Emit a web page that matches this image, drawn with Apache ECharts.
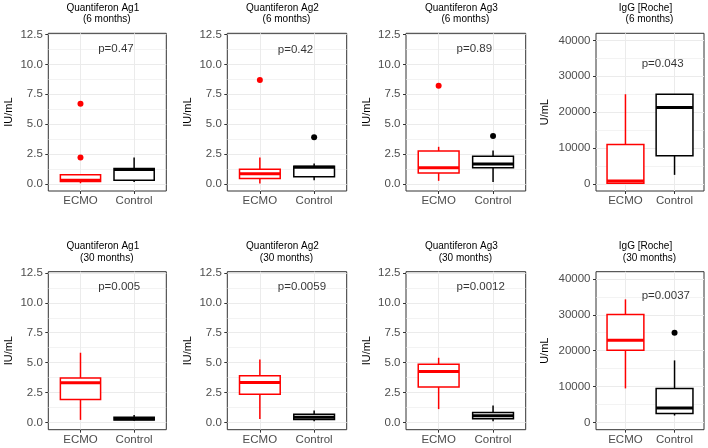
<!DOCTYPE html>
<html>
<head>
<meta charset="utf-8">
<script src="https://cdn.jsdelivr.net/npm/echarts@6/dist/echarts.min.js"></script>
<style>
html, body { margin: 0; padding: 0; background: #fff; }
#main { width: 708px; height: 448px; }
</style>
</head>
<body>
<div id="main"></div>
<script>
// data
const groups = ['ECMO', 'Control'];
const titles = ['Quantiferon Ag1', 'Quantiferon Ag2', 'Quantiferon Ag3', 'IgG [Roche]',
                'Quantiferon Ag1', 'Quantiferon Ag2', 'Quantiferon Ag3', 'IgG [Roche]'];
const periods = ['(6 months)', '(6 months)', '(6 months)', '(6 months)',
                 '(30 months)', '(30 months)', '(30 months)', '(30 months)'];
const units = ['IU/mL', 'IU/mL', 'IU/mL', 'U/mL', 'IU/mL', 'IU/mL', 'IU/mL', 'U/mL'];
const pValues = ['p=0.47', 'p=0.42', 'p=0.89', 'p=0.043', 'p=0.005', 'p=0.0059', 'p=0.0012', 'p=0.0037'];
const pLabelY = [11.3, 11.2, 11.3, 33600, 11.3, 11.3, 11.3, 35400];

// [min, Q1, median, Q3, max]
const ecmoBox = [
  [0.05, 0.2, 0.3, 0.75, 0.78],
  [0.03, 0.45, 0.84, 1.23, 2.2],
  [0.25, 0.9, 1.35, 2.75, 3.1],
  [0, 150, 800, 11000, 25000],
  [0.22, 1.93, 3.32, 3.71, 5.83],
  [0.3, 2.37, 3.35, 3.91, 5.27],
  [1.12, 2.96, 4.27, 4.86, 5.41],
  [9500, 20100, 22900, 30100, 34300]
];
const controlBox = [
  [0.15, 0.3, 1.2, 1.28, 2.2],
  [0.3, 0.6, 1.38, 1.48, 1.7],
  [0.15, 1.35, 1.65, 2.3, 2.8],
  [2500, 7850, 21300, 25000, 25000],
  [0.15, 0.2, 0.32, 0.45, 0.62],
  [0.1, 0.25, 0.45, 0.7, 1.0],
  [0.11, 0.31, 0.56, 0.84, 1.42],
  [1950, 2500, 4050, 9500, 17300]
];
const ecmoOutliers = [[6.7, 2.2], [8.7], [8.2], [], [], [], [], []];
const controlOutliers = [[], [3.9], [4.0], [], [], [], [], [25000]];

const iuTicks = [0, 2.5, 5, 7.5, 10, 12.5];
const iuMinor = [1.25, 3.75, 6.25, 8.75, 11.25];
const uTicks = [0, 10000, 20000, 30000, 40000];
const uMinor = [5000, 15000, 25000, 35000];

// layout
const colX = [[48.3, 166.3], [227.3, 346.7], [406, 525.7], [596, 704]];
const rowY = [[33.3, 191], [271.7, 429.7]];
const colors = ['#ff0000', '#000000'];
const FONT = '"Liberation Sans", Arial, sans-serif';

function renderBox(params, api) {
  var x = api.value(0);
  var c = api.visual('color');
  var half = 0.375;
  var lo = api.coord([x - half, api.value(2)]);
  var hi = api.coord([x + half, api.value(4)]);
  var wMin = api.coord([x, api.value(1)]);
  var wMax = api.coord([x, api.value(5)]);
  var m1 = api.coord([x - half, api.value(3)]);
  var m2 = api.coord([x + half, api.value(3)]);
  return {
    type: 'group',
    children: [
      {type: 'line', shape: {x1: wMin[0], y1: wMin[1], x2: wMin[0], y2: lo[1]}, style: {stroke: c, lineWidth: 1.5}},
      {type: 'line', shape: {x1: wMax[0], y1: wMax[1], x2: wMax[0], y2: hi[1]}, style: {stroke: c, lineWidth: 1.5}},
      {type: 'rect', shape: {x: lo[0], y: hi[1], width: hi[0] - lo[0], height: lo[1] - hi[1]},
        style: {fill: '#fff', stroke: c, lineWidth: 1.5}},
      {type: 'line', shape: {x1: m1[0], y1: m1[1], x2: m2[0], y2: m2[1]}, style: {stroke: c, lineWidth: 3}}
    ]
  };
}

let grids = [], xAxes = [], yAxes = [], series = [], graphics = [];

for (let i = 0; i < 8; i++) {
  let row = Math.floor(i / 4), col = i % 4;
  let x0 = colX[col][0], x1 = colX[col][1];
  let y0 = rowY[row][0], y1 = rowY[row][1];
  let igg = (col === 3);
  let ymin = igg ? -2000 : -0.6;
  let ymax = igg ? 42000 : 12.6;

  grids.push({left: x0, top: y0, width: x1 - x0, height: y1 - y0, show: true,
    borderColor: '#333', borderWidth: 1, backgroundColor: '#fff', containLabel: false});

  xAxes.push({
    type: 'value', gridIndex: i, min: 0.4, max: 2.6,
    axisLine: {show: false, onZero: false},
    axisTick: {show: true, length: 3, customValues: [1, 2], lineStyle: {color: '#333', width: 1}},
    axisLabel: {customValues: [1, 2], formatter: function (v) { return groups[Math.round(v) - 1]; },
      color: '#4d4d4d', fontSize: 11.5, margin: 4, fontFamily: FONT},
    splitLine: {show: true, lineStyle: {color: '#ebebeb', width: 1}}
  });

  yAxes.push({
    type: 'value', gridIndex: i, min: ymin, max: ymax, position: 'left',
    name: units[i], nameLocation: 'middle', nameRotate: 90, nameGap: igg ? 45.5 : 34,
    nameTextStyle: {color: '#000', fontSize: 11, fontFamily: FONT},
    axisLine: {show: false, onZero: false},
    axisTick: {show: true, length: 3, customValues: igg ? uTicks : iuTicks, lineStyle: {color: '#333', width: 1}},
    axisLabel: {customValues: igg ? uTicks : iuTicks,
      formatter: function (v) { return igg ? String(v) : v.toFixed(1); },
      color: '#4d4d4d', fontSize: 11.5, margin: 5.5, fontFamily: FONT},
    splitLine: {show: true, lineStyle: {color: '#ebebeb', width: 1}}
  });
  yAxes.push({
    type: 'value', gridIndex: i, min: ymin, max: ymax, position: 'left',
    axisLine: {show: false, onZero: false},
    axisTick: {show: false, customValues: igg ? uMinor : iuMinor},
    axisLabel: {show: false, customValues: igg ? uMinor : iuMinor},
    splitLine: {show: true, lineStyle: {color: '#ebebeb', width: 0.6}}
  });

  let boxes = [ecmoBox[i], controlBox[i]];
  let outs = [ecmoOutliers[i], controlOutliers[i]];
  for (let g = 0; g < 2; g++) {
    series.push({
      type: 'custom', xAxisIndex: i, yAxisIndex: 2 * i, renderItem: renderBox,
      itemStyle: {color: colors[g]}, silent: true,
      encode: {x: 0, y: [1, 2, 3, 4, 5]},
      data: [[g + 1].concat(boxes[g])]
    });
    if (outs[g].length) {
      series.push({
        type: 'scatter', xAxisIndex: i, yAxisIndex: 2 * i, symbolSize: 6, silent: true,
        itemStyle: {color: colors[g], opacity: 1},
        data: outs[g].map(function (v) { return [g + 1, v]; })
      });
    }
  }
  series.push({
    type: 'scatter', xAxisIndex: i, yAxisIndex: 2 * i, symbolSize: 0, silent: true,
    data: [[1.33, pLabelY[i]]],
    label: {show: true, position: 'right', distance: 0, formatter: pValues[i],
      color: '#000', fontSize: 11.5, fontFamily: FONT}
  });

  let cx = (x0 + x1) / 2;
  graphics.push({type: 'text', x: cx - 4.5, y: y0 - 25.2,
    style: {text: titles[i], fill: '#000', fontSize: 10, fontFamily: FONT, align: 'center', verticalAlign: 'middle'}});
  graphics.push({type: 'text', x: cx - 0.5, y: y0 - 13.7,
    style: {text: periods[i], fill: '#000', fontSize: 10, fontFamily: FONT, align: 'center', verticalAlign: 'middle'}});
}

let chart = echarts.init(document.getElementById('main'), null, {renderer: 'canvas'});
chart.setOption({
  animation: false,
  backgroundColor: '#fff',
  textStyle: {fontFamily: FONT},
  grid: grids,
  xAxis: xAxes,
  yAxis: yAxes,
  series: series,
  graphic: graphics
});
</script>
</body>
</html>
